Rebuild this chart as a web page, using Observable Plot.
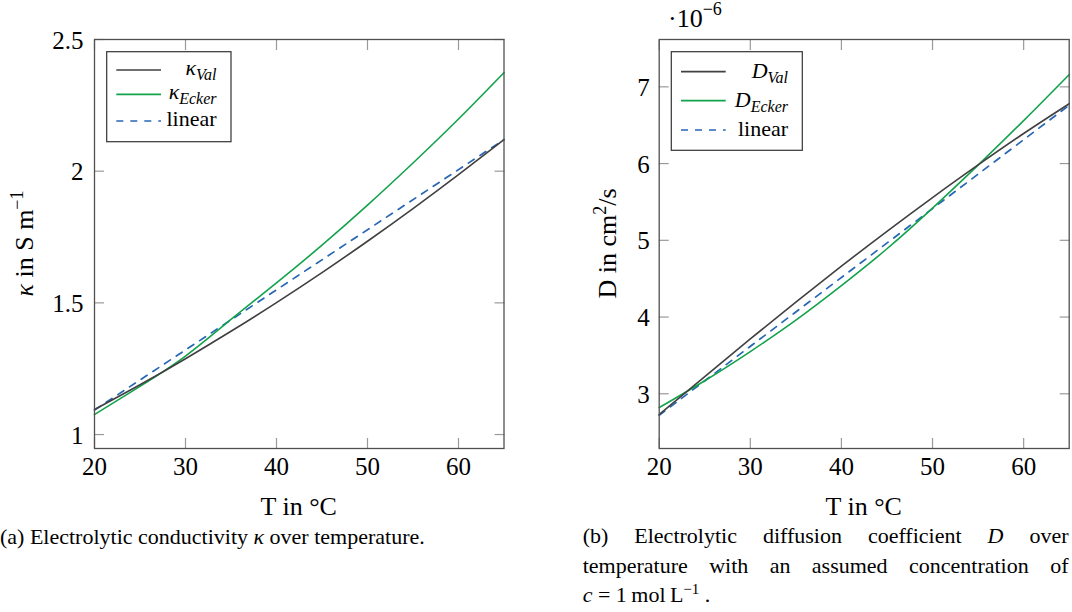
<!DOCTYPE html>
<html><head><meta charset="utf-8">
<script src="https://cdn.jsdelivr.net/npm/d3@7"></script>
<script src="https://cdn.jsdelivr.net/npm/@observablehq/plot@0.6"></script>
<style>
body{margin:0;background:#fff;}
#wrap{position:relative;width:1072px;height:612px;overflow:hidden;font-family:"Liberation Serif",serif;color:#000;}
.panel{position:absolute;top:0;}
.cap{position:absolute;font-size:22px;line-height:29.5px;white-space:nowrap;}
.just{text-align:justify;text-align-last:justify;white-space:normal;}
.cap sup{font-size:15px;line-height:0;vertical-align:8px;}
#overlay{position:absolute;left:0;top:0;}
</style></head><body><div id="wrap"></div>
<script>
// Temperature grid (°C)
const temperatures = [20,25,30,35,40,45,50,55,60,65];
// Electrolytic conductivity κ in S/m
const kappaVal   = [1.095,1.189,1.288,1.392,1.501,1.615,1.734,1.858,1.987,2.120];
const kappaEcker = [1.076,1.183,1.298,1.437,1.576,1.719,1.871,2.031,2.198,2.374];
const linearT = [20,65];
const kappaLinear = [1.093,2.120];
// Diffusion coefficient D in units of 10^-6 cm²/s
const dVal   = [2.73,3.225,3.715,4.195,4.663,5.117,5.557,5.982,6.392,6.78];
const dEcker = [2.82,3.17,3.55,3.96,4.41,4.89,5.42,5.98,6.56,7.16];
const dLinear = [2.72,6.76];
// Ticks
const xTicks = [20,30,40,50,60];
const xTickLabels = ["20","30","40","50","60"];
const kappaTicks = [1,1.5,2,2.5];
const kappaTickLabels = ["1","1.5","2","2.5"];
const dTicks = [3,4,5,6,7];
const dTickLabels = ["3","4","5","6","7"];
const seriesKeys = ["Val","Ecker","linear"];
const colors = {Val:"#404040", Ecker:"#13a24c", linear:"#2767b5"};

function rowsOf(val, ecker, lin) {
  const r = [];
  temperatures.forEach((t,i)=>r.push({T:t, v:val[i], s:"Val"}));
  temperatures.forEach((t,i)=>r.push({T:t, v:ecker[i], s:"Ecker"}));
  linearT.forEach((t,i)=>r.push({T:t, v:lin[i], s:"linear"}));
  return r;
}

const FONT = "Liberation Serif";
const TICKC = "#9a9a9a";

function panel({left, width, mL, mR, yDomain, yTicks, yLabels, rows, tickPad}) {
  const chart = Plot.plot({
    width, height: 490, marginLeft: mL, marginRight: mR, marginTop: 39, marginBottom: 42,
    x: {domain: [20,65]},
    y: {domain: yDomain},
    style: {fontFamily: FONT, fontSize: "25px", color: "#000", background: "transparent", overflow: "visible"},
    marks: [
      Plot.axisX(xTicks, {anchor:"bottom", tickSize:-10, fill:"none", stroke:TICKC, strokeWidth:1.2, label:null}),
      Plot.axisX(xTicks, {anchor:"top", tickSize:-10, fill:"none", stroke:TICKC, strokeWidth:1.2, label:null}),
      Plot.axisY(yTicks, {anchor:"left", tickSize:-10, fill:"none", stroke:TICKC, strokeWidth:1.2, label:null}),
      Plot.axisY(yTicks, {anchor:"right", tickSize:-10, fill:"none", stroke:TICKC, strokeWidth:1.2, label:null}),
      Plot.axisX(xTicks, {anchor:"bottom", tickSize:0, tickPadding:9, label:null, fontSize:25, fill:"#000",
        tickFormat: d => xTickLabels[xTicks.indexOf(d)]}),
      Plot.axisY(yTicks, {anchor:"left", tickSize:0, tickPadding:tickPad, label:null, fontSize:25, fill:"#000", dy:1,
        tickFormat: d => yLabels[yTicks.indexOf(d)]}),
      Plot.line(rows.filter(d=>d.s==="linear"), {x:"T", y:"v", stroke:colors.linear, strokeWidth:1.7, strokeDasharray:"7,7"}),
      Plot.line(rows.filter(d=>d.s==="Ecker"), {x:"T", y:"v", stroke:colors.Ecker, strokeWidth:1.6, curve:"natural"}),
      Plot.line(rows.filter(d=>d.s==="Val"), {x:"T", y:"v", stroke:colors.Val, strokeWidth:1.6, curve:"natural"}),
      Plot.frame({stroke:"#505050", strokeWidth:1.3})
    ]
  });
  chart.classList.add("panel");
  chart.style.left = left + "px";
  chart.setAttribute("font-family", FONT);
  return chart;
}

const wrap = document.getElementById("wrap");
wrap.appendChild(panel({left:0, width:520, mL:94, mR:16.5, yDomain:[0.947,2.5], yTicks:kappaTicks, yLabels:kappaTickLabels,
  rows: rowsOf(kappaVal, kappaEcker, kappaLinear), tickPad: 11}));
wrap.appendChild(panel({left:560, width:512, mL:98.7, mR:3.3, yDomain:[2.287,7.617], yTicks:dTicks, yLabels:dTickLabels,
  rows: rowsOf(dVal, dEcker, dLinear), tickPad: 9.5}));

// Overlay: axis labels, scale note, legends
function legend(x, y, w, h, lineX0, lineX1, ys, textRight, sym) {
  let s = `<rect x="${x}" y="${y}" width="${w}" height="${h}" fill="#fff" stroke="#333" stroke-width="1.2"/>`;
  seriesKeys.forEach((k,i)=>{
    const dash = k==="linear" ? ' stroke-dasharray="7,7"' : '';
    s += `<line x1="${lineX0}" x2="${lineX1}" y1="${ys[i]}" y2="${ys[i]}" stroke="${colors[k]}" stroke-width="1.7"${dash}/>`;
    const by = ys[i] + (sym==="D" ? 6 : 4.5);
    if (k==="linear") {
      s += `<text x="${textRight}" y="${by}" text-anchor="end" font-size="22">linear</text>`;
    } else {
      s += `<text x="${textRight}" y="${by}" text-anchor="end" font-size="22" font-style="italic">${sym}<tspan dy="5" font-size="16">${k}</tspan></text>`;
    }
  });
  return s;
}

const ov = `<svg id="overlay" width="1072" height="612" fill="#000">
  <text transform="translate(33,243.5) rotate(-90)" text-anchor="middle" font-size="26"><tspan font-style="italic">κ</tspan> in S m<tspan dy="-10" font-size="18">−1</tspan></text>
  <text transform="translate(616,243.5) rotate(-90)" text-anchor="middle" font-size="26">D in cm<tspan dy="-10" font-size="18">2</tspan><tspan dy="10">/s</tspan></text>
  <text x="298.75" y="515" text-anchor="middle" font-size="26">T in °C</text>
  <text x="863.7" y="515" text-anchor="middle" font-size="26">T in °C</text>
  <text x="668" y="26.7" font-size="26">·10<tspan dy="-12" font-size="18">−6</tspan></text>
  ${legend(106.7, 51.7, 124.3, 90, 116.3, 161, [70,94.3,121], 216.5, "κ")}
  ${legend(671.3, 51.7, 131, 98.6, 681, 725.7, [71.7,100.7,130], 788, "D")}
</svg>`;
wrap.insertAdjacentHTML("beforeend", ov);

// Make every SVG text carry the font explicitly
wrap.querySelectorAll("svg").forEach(s => s.setAttribute("font-family", FONT));
wrap.querySelectorAll("svg text, svg tspan").forEach(t => t.setAttribute("font-family", FONT));

wrap.insertAdjacentHTML("beforeend", `
<div class="cap" style="left:0;top:521.8px;">(a) Electrolytic conductivity <i>κ</i> over temperature.</div>
<div class="cap just" style="left:582.7px;top:521.1px;width:485.8px;">(b) Electrolytic diffusion coefficient <i>D</i> over</div>
<div class="cap just" style="left:582.7px;top:550.6px;width:485.8px;">temperature with an assumed concentration of</div>
<div class="cap" style="left:582.7px;top:580.1px;"><i>c</i> = 1&#8201;mol&#8201;L<sup>−1</sup> .</div>
`);
</script>
</body></html>
